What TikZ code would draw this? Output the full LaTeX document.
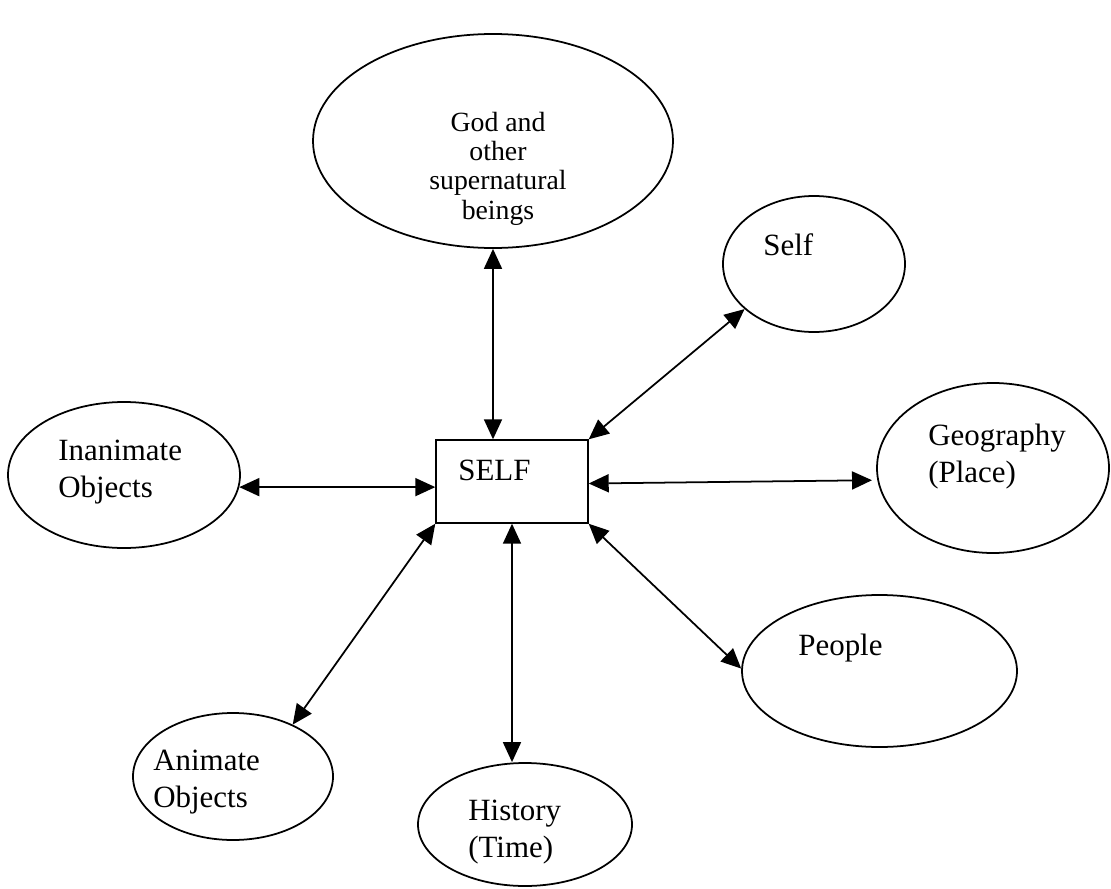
\documentclass[tikz,border=0pt]{standalone}
\usepackage{fontspec}
\setmainfont{Liberation Serif}
\usetikzlibrary{shapes.geometric,arrows.meta}

\tikzset{
  bubble/.style={ellipse, draw, line width=1pt, inner sep=0pt},
  lbl/.style={font=\fontsize{17.6}{21}\selectfont, align=left, anchor=base west, inner sep=0pt},
  link/.style={line width=1pt, {Triangle[length=0.4cm,width=0.36cm]}-{Triangle[length=0.4cm,width=0.36cm]}}
}

\begin{document}
\begin{tikzpicture}
        \useasboundingbox (0,0) rectangle (22.22,-17.78);

        % the centre box
        \node[draw, line width=0.8pt, minimum width=3.04cm, minimum height=1.66cm] (box) at (10.24,-9.63) {};
        \node[lbl] (boxtxt) at (9.16,-9.6) {SELF};

        % the ellipses round it
        \node[bubble, minimum width=7.2cm, minimum height=4.28cm] (god) at (9.86,-2.82) {};
        \node[bubble, minimum width=3.64cm, minimum height=2.72cm] (self) at (16.28,-5.28) {};
        \node[bubble, minimum width=4.64cm, minimum height=2.92cm] (inan) at (2.48,-9.5) {};
        \node[bubble, minimum width=4.64cm, minimum height=3.4cm] (geo) at (19.86,-9.36) {};
        \node[bubble, minimum width=5.5cm, minimum height=3.04cm] (people) at (17.59,-13.42) {};
        \node[bubble, minimum width=4.0cm, minimum height=2.54cm] (anim) at (4.66,-15.53) {};
        \node[bubble, minimum width=4.28cm, minimum height=2.46cm] (hist) at (10.5,-16.49) {};

        % their texts (base = last line)
        \node[lbl, align=center, anchor=base, font=\fontsize{15.8}{16.6}\selectfont] (godtxt) at (9.96,-4.38)
            {God and\\other\\supernatural\\beings};
        \node[lbl] (selftxt) at (15.26,-5.1) {Self};
        \node[lbl] (inantxt) at (1.16,-9.94) {Inanimate\\Objects};
        \node[lbl] (geotxt) at (18.56,-9.64) {Geography\\(Place)};
        \node[lbl] (peopletxt) at (15.96,-13.1) {People};
        \node[lbl] (animtxt) at (3.06,-16.14) {Animate\\Objects};
        \node[lbl] (histtxt) at (9.36,-17.14) {History\\(Time)};

        % the arrows
        \draw[link] (god.south) -- (god.south |- box.north);
        \draw[link] (box.north east) -- (self.213);
        \draw[link] (inan.-6) -- (inan.-6 -| box.west);
        \draw[link, shorten >=3pt] ([yshift=-0.04cm]box.east) -- (geo.186);
        \draw[link] (box.south east) -- (people.179);
        \draw[link] (box.south) -- (box.south |- hist.north);
        \draw[link] (box.south west) -- (anim.41);
\end{tikzpicture}
\end{document}
